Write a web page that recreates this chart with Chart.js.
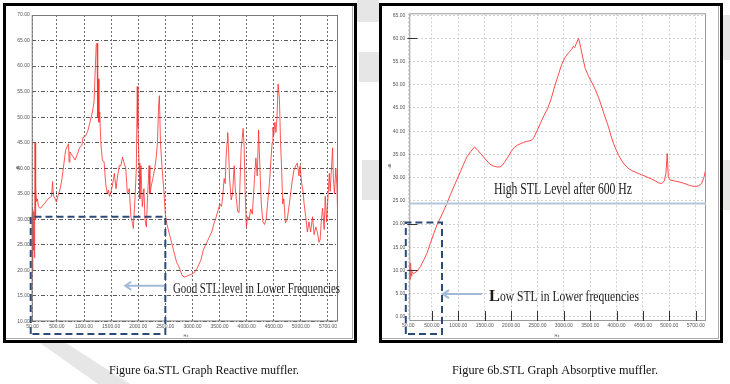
<!DOCTYPE html>
<html>
<head>
<meta charset="utf-8">
<title>STL graphs</title>
<script src="https://cdn.jsdelivr.net/npm/chart.js@4.4.1/dist/chart.umd.min.js"></script>
<style>
  body { margin: 0; width: 730px; height: 384px; position: relative; overflow: hidden; background: #fff; }
  #bg { position: absolute; left: 0; top: 0; }
  .box { position: absolute; box-sizing: border-box; border: 3px solid #000; background: #fff; }
  .box .inner { position: absolute; left: 0; top: 0; right: 1px; bottom: 1px; border-right: 1px solid #aaa; border-bottom: 1px solid #aaa; }
  .plot { position: absolute; top: 0; width: 360px; height: 345px; }
</style>
</head>
<body>
<canvas id="bg" width="730" height="384"></canvas>
<div class="box" style="left:3px;top:3px;width:354px;height:340px"><div class="inner"></div></div>
<div class="box" style="left:379px;top:3px;width:344px;height:340px"><div class="inner"></div></div>
<div class="plot" style="left:0"><canvas id="reactive"></canvas></div>
<div class="plot" style="left:370px"><canvas id="absorptive"></canvas></div>
<script>
// Figure 6a - reactive muffler (Hz, dB)
const reactiveFreq = [35, 42, 50, 58, 66, 74, 82, 90, 96, 103, 112, 125, 140, 160, 185, 215, 245, 280, 320, 360,
  400, 420, 435, 460, 490, 520, 560, 595, 630, 660, 700, 715, 725, 740, 760, 790, 835, 885, 915, 960,
  980, 1030, 1075, 1110, 1155, 1185, 1210, 1225, 1240, 1252, 1262, 1275, 1290, 1310, 1340, 1370, 1400, 1430, 1450, 1470,
  1500, 1530, 1560, 1590, 1620, 1650, 1680, 1710, 1740, 1770, 1800, 1835, 1865, 1895, 1910, 1940, 1965, 1982, 1995, 2015,
  2030, 2050, 2075, 2105, 2125, 2150, 2175, 2200, 2215, 2240, 2270, 2305, 2330, 2355, 2375, 2390, 2410, 2440, 2470, 2500,
  2530, 2590, 2650, 2710, 2740, 2770, 2810, 2850, 2900, 2970, 3030, 3090, 3155, 3200, 3245, 3310, 3355, 3400, 3430, 3480,
  3505, 3535, 3555, 3585, 3605, 3620, 3640, 3650, 3665, 3685, 3715, 3740, 3770, 3790, 3810, 3835, 3860, 3880, 3900, 3920,
  3935, 3955, 3970, 3995, 4020, 4045, 4075, 4105, 4145, 4170, 4195, 4220, 4245, 4270, 4300, 4330, 4360, 4390, 4420, 4450,
  4470, 4485, 4500, 4520, 4540, 4560, 4580, 4605, 4625, 4645, 4665, 4685, 4715, 4750, 4780, 4810, 4840, 4870, 4905, 4935,
  4965, 4985, 5015, 5040, 5060, 5090, 5120, 5150, 5180, 5215, 5245, 5275, 5305, 5335, 5355, 5375, 5400, 5430, 5450, 5475,
  5490, 5525, 5540, 5565, 5585, 5600, 5620, 5645, 5665, 5680];
const reactiveStl = [14, 31, 20, 32, 24, 31.5, 22.5, 29, 45, 30, 36.5, 33.5, 34, 32.5, 32.2, 32.3, 32.8, 33.2, 33.8, 34.2,
  34.5, 37.4, 34.6, 34.2, 33.4, 34.6, 36, 38, 41, 43.5, 44.5, 44.8, 41.2, 43.2, 42.8, 42.4, 41.6, 43, 44, 44.5,
  46, 46.3, 47.5, 49, 51, 53, 60, 64.2, 64.5, 50, 57.5, 49, 51, 45, 41.5, 41.3, 37, 35, 35.7, 34.5,
  35.5, 37, 39, 36, 38.5, 40.5, 40.5, 42.2, 41, 40, 35, 36, 30.5, 29.2, 28.2, 34, 40, 56, 48, 41,
  34, 40.5, 32.5, 36, 30, 28.5, 35, 40.5, 35, 36.5, 38, 40, 42, 45, 52, 54.2, 45, 40, 36, 31,
  29, 26.5, 24, 21.5, 21, 20.2, 19, 18.7, 18.9, 19.2, 19.5, 20.5, 22, 24, 25, 26.5, 27.5, 29.3, 30.2, 32,
  33, 32.5, 34, 38, 37, 42, 45.3, 47, 44, 38, 33.8, 35, 40.5, 36, 34, 31.5, 31.3, 38, 44, 46,
  47.8, 44, 36, 28.5, 30.5, 30, 32, 31, 38, 42, 38.5, 47.5, 40, 33, 29.5, 29, 30, 33.5, 37, 42,
  45, 48, 46.5, 49, 47, 50, 56.5, 53.5, 45, 40, 33, 34, 29.3, 30, 32.5, 35, 37.5, 39.5, 40.5, 41,
  38.5, 40.5, 37, 35.5, 33, 30.5, 27.5, 29.5, 27.5, 30.5, 27, 28.5, 27.5, 25.5, 26, 29.3, 32.2, 28, 34.5, 29.5,
  32.5, 39, 35.5, 40, 44, 38, 35, 40, 36.5, 30.5];

// Figure 6b - absorptive muffler (Hz, dB)
const absorptiveFreq = [75, 80, 86, 92, 98, 106, 120, 150, 215, 280, 342, 405, 468, 532, 595, 658, 720, 785, 850, 912,
  975, 1040, 1100, 1165, 1235, 1305, 1360, 1420, 1480, 1540, 1600, 1660, 1730, 1790, 1830, 1880, 1940, 2000, 2060, 2120,
  2180, 2240, 2300, 2380, 2430, 2500, 2560, 2620, 2690, 2760, 2830, 2900, 2960, 3025, 3090, 3150, 3180, 3205, 3240, 3280,
  3320, 3360, 3405, 3470, 3530, 3595, 3660, 3720, 3780, 3845, 3890, 3940, 3990, 4035, 4100, 4160, 4220, 4285, 4350, 4410,
  4475, 4540, 4600, 4665, 4730, 4790, 4855, 4905, 4935, 4960, 4980, 5010, 5090, 5170, 5240, 5295, 5360, 5420, 5490, 5550,
  5610, 5660, 5695];
const absorptiveStl = [11.5, 8, 11.6, 8.2, 11, 8.8, 9.8, 9.3, 9.8, 10.8, 12.2, 13.7, 15.8, 17.9, 19.8, 21.3, 22.8, 24.5, 26.3, 28,
  29.6, 31.3, 32.9, 34.5, 35.6, 36.6, 36, 35.2, 34.4, 33.6, 32.9, 32.5, 32.3, 32.3, 32.6, 33.4, 34.4, 35.6, 36.5, 37,
  37.3, 37.6, 37.8, 38, 38.6, 40.3, 41.8, 43.3, 44.8, 47, 49.8, 52.3, 54.4, 55.9, 56.9, 57.6, 58.3, 58, 59, 60,
  58, 55.8, 53.5, 51.8, 50.5, 49, 47.2, 45.2, 43.1, 41, 39.1, 37.4, 36, 34.9, 33.6, 32.7, 32, 31.5, 31.2, 30.9,
  30.6, 30.3, 30, 29.7, 29.3, 28.9, 28.7, 29.3, 30.9, 35.2, 30.2, 29.5, 29.3, 29.1, 28.9, 28.7, 28.4, 28.2, 28.1, 28.2,
  28.7, 30.2, 32];

const xTickValues = [50, 500, 1000, 1500, 2000, 2500, 3000, 3500, 4000, 4500, 5000, 5500];
const xTickLabels = ['50.00', '500.00', '1000.00', '1500.00', '2000.00', '2500.00', '3000.00', '3500.00', '4000.00', '4500.00', '5000.00', '5700.00'];
const reactiveYTicks = [10, 15, 20, 25, 30, 35, 40, 45, 50, 55, 60, 65, 70];
const absorptiveYTicks = [0, 5, 10, 15, 20, 25, 30, 35, 40, 45, 50, 55, 60, 65];

const goodLevel = 30.5;   // top of dashed box, fig 6a
const goodEdge = 2500;    // Hz
const highLevel = 24.4;   // blue reference line, fig 6b
const lowLevel = 20.3;    // top of dashed box, fig 6b
const lowEdge = 690;      // Hz

function fitText(ctx, str, x, y, w, font) {
  ctx.font = font;
  const m = ctx.measureText(str).width;
  ctx.save();
  ctx.translate(x, y);
  ctx.scale(w / m, 1);
  ctx.fillText(str, 0, 0);
  ctx.restore();
}

function dashedBox(ctx, x1, y1, x2, y2) {
  ctx.save();
  ctx.strokeStyle = '#2c4a78';
  ctx.lineWidth = 2;
  ctx.setLineDash([7, 4]);
  ctx.beginPath();
  ctx.moveTo(x1, y2); ctx.lineTo(x1, y1); ctx.lineTo(x2, y1); ctx.lineTo(x2, y2); ctx.lineTo(x1, y2);
  ctx.stroke();
  ctx.restore();
}

function arrowLeft(ctx, xTip, xTail, y) {
  ctx.save();
  ctx.strokeStyle = '#a3b9d8';
  ctx.lineWidth = 2;
  ctx.beginPath();
  ctx.moveTo(xTail, y); ctx.lineTo(xTip, y);
  ctx.moveTo(xTip + 6, y - 4); ctx.lineTo(xTip, y); ctx.lineTo(xTip + 6, y + 4);
  ctx.stroke();
  ctx.restore();
}

function axisNames(ctx, hzX, dbX, dbY) {
  ctx.save();
  ctx.fillStyle = '#555';
  ctx.font = '4px Arial';
  ctx.textAlign = 'center';
  ctx.fillText('Hz', hzX, 337);
  ctx.translate(dbX, dbY);
  ctx.rotate(-Math.PI / 2);
  ctx.fillText('dB', 0, 0);
  ctx.restore();
}

const reactiveNotes = {
  id: 'reactiveNotes',
  afterDraw(chart) {
    const { ctx, chartArea: a, scales: { x, y } } = chart;
    ctx.save();
    ctx.strokeStyle = '#7a7a7a';
    ctx.lineWidth = 1;
    ctx.strokeRect(a.left + 0.5, a.top + 0.5, a.width - 1, a.height - 1);
    dashedBox(ctx, a.left - 1, y.getPixelForValue(goodLevel), x.getPixelForValue(goodEdge), a.bottom + 12.5);
    const ay = y.getPixelForValue(17);
    arrowLeft(ctx, x.getPixelForValue(1760), x.getPixelForValue(goodEdge) - 1, ay);
    ctx.fillStyle = '#1a1a1a';
    fitText(ctx, 'Good STL level in Lower Frequencies', 173, ay + 7, 167, '15px "Liberation Serif"');
    axisNames(ctx, 186, 19, 168);
    ctx.restore();
  }
};

const absorptiveNotes = {
  id: 'absorptiveNotes',
  afterDraw(chart) {
    const { ctx, chartArea: a, scales: { x, y } } = chart;
    ctx.save();
    ctx.strokeStyle = '#9a9a9a';
    ctx.lineWidth = 1;
    ctx.strokeRect(a.left + 0.5, a.top + 0.5, a.width - 1, a.height - 1);
    // inward tick marks
    ctx.strokeStyle = '#333';
    ctx.beginPath();
    xTickValues.slice(1).forEach(v => {
      const px = Math.round(x.getPixelForValue(v)) + 0.5;
      ctx.moveTo(px, a.bottom); ctx.lineTo(px, a.bottom - 10);
    });
    [60, 20, 10].forEach(v => {
      const py = Math.round(y.getPixelForValue(v)) + 0.5;
      ctx.moveTo(a.left - 2, py); ctx.lineTo(a.left + 8, py);
    });
    ctx.stroke();
    // reference level
    const hy = y.getPixelForValue(highLevel);
    ctx.strokeStyle = '#b4c6de';
    ctx.lineWidth = 2;
    ctx.beginPath(); ctx.moveTo(a.left, hy); ctx.lineTo(a.right, hy); ctx.stroke();
    dashedBox(ctx, a.left - 3.5, y.getPixelForValue(lowLevel), x.getPixelForValue(lowEdge), a.bottom + 13);
    const ay = y.getPixelForValue(4.9);
    arrowLeft(ctx, x.getPixelForValue(lowEdge) + 1, x.getPixelForValue(1447), ay);
    ctx.fillStyle = '#1a1a1a';
    fitText(ctx, 'High STL Level after 600 Hz', 124, hy - 10, 138, '16px "Liberation Serif"');
    fitText(ctx, 'L', 119, ay + 7, 11, 'bold 16px "Liberation Serif"');
    fitText(ctx, 'ow STL in Lower frequencies', 130, ay + 7, 139, '15px "Liberation Serif"');
    axisNames(ctx, 187, 21, 166);
    ctx.restore();
  }
};

function makeChart(id, freq, stl, cfg) {
  return new Chart(document.getElementById(id), {
    type: 'line',
    data: {
      datasets: [{
        data: freq.map((f, i) => ({ x: f, y: stl[i] })),
        borderColor: cfg.lineColor,
        borderWidth: 1,
        pointRadius: 0,
        tension: 0
      }]
    },
    options: {
      responsive: true,
      maintainAspectRatio: false,
      animation: false,
      devicePixelRatio: 1,
      layout: { padding: cfg.padding },
      plugins: { legend: { display: false }, tooltip: { enabled: false } },
      scales: {
        x: {
          type: 'linear',
          min: cfg.xMin, max: cfg.xMax,
          afterBuildTicks: s => { s.ticks = xTickValues.map(v => ({ value: v })); },
          afterFit: s => { s.height = cfg.xHeight; },
          grid: { color: cfg.vGrid, drawTicks: false },
          border: { display: false, dash: [2, 2] },
          ticks: {
            font: { size: 5, family: 'Arial' }, color: '#555', padding: 2,
            maxRotation: 0, autoSkip: false,
            callback: (v, i) => xTickLabels[i]
          }
        },
        y: {
          min: cfg.yMin, max: cfg.yMax,
          afterBuildTicks: s => { s.ticks = cfg.yTicks.map(v => ({ value: v })); },
          afterFit: s => { s.width = cfg.yWidth; },
          grid: { color: cfg.hGrid, drawTicks: false },
          border: { display: false, dash: cfg.hDash },
          ticks: {
            font: { size: 5, family: 'Arial' }, color: '#555', padding: cfg.yPad,
            callback: v => v.toFixed(2)
          }
        }
      }
    },
    plugins: [cfg.notes]
  });
}

// background: faint watermark and captions
const bg = document.getElementById('bg').getContext('2d');
bg.fillStyle = '#e6e6e6';
bg.beginPath(); bg.moveTo(40, 343); bg.lineTo(66, 343); bg.lineTo(130, 384); bg.lineTo(98, 384); bg.closePath(); bg.fill();
bg.fillRect(357, 0, 22, 22);
bg.fillRect(359, 52, 20, 30);
bg.fillRect(362, 160, 17, 40);
bg.fillRect(723, 15, 7, 45);
bg.fillRect(723, 160, 7, 50);
bg.fillStyle = '#111';
fitText(bg, 'Figure 6a.STL Graph Reactive muffler.', 109, 374, 190, '12px "Liberation Serif"');
fitText(bg, 'Figure 6b.STL Graph Absorptive muffler.', 452, 374, 206, '12px "Liberation Serif"');

makeChart('reactive', reactiveFreq, reactiveStl, {
  lineColor: 'rgba(255, 45, 45, 0.8)',
  padding: { left: 0, top: 15, right: 22, bottom: 0 },
  xMin: 35, xMax: 5685, xHeight: 23.5,
  yMin: 10, yMax: 70, yTicks: reactiveYTicks, yWidth: 31.7, yPad: 2,
  vGrid: '#6a6a6a',
  hGrid: c => (c.tick && c.tick.value === 35 ? '#000' : '#5a5a5a'),
  hDash: [4, 2, 1, 2],
  notes: reactiveNotes
});

makeChart('absorptive', absorptiveFreq, absorptiveStl, {
  lineColor: '#ff4a4a',
  padding: { left: 0, top: 13.3, right: 24, bottom: 0 },
  xMin: 70, xMax: 5695, xHeight: 24,
  yMin: -0.9, yMax: 65.4, yTicks: absorptiveYTicks, yWidth: 39.3, yPad: 4,
  vGrid: '#d0d0d0',
  hGrid: '#d0d0d0',
  hDash: [2, 2],
  notes: absorptiveNotes
});
</script>
</body>
</html>
